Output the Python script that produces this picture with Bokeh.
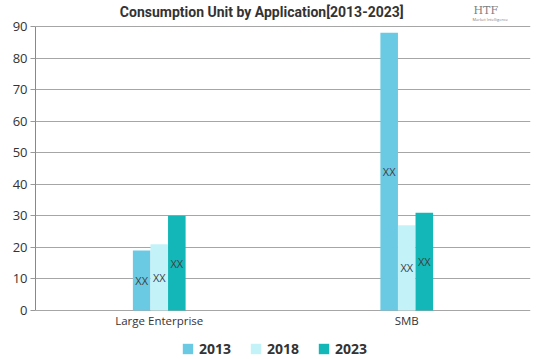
from bokeh.plotting import figure
from bokeh.models import (ColumnDataSource, FactorRange, Range1d, Label, Legend, LegendItem,
                          LabelSet, FixedTicker)
from bokeh.transform import dodge
from bokeh.core.properties import value
from bokeh.embed import file_html
from bokeh.resources import INLINE

categories = ["Large Enterprise", "SMB"]
years = ["2013", "2018", "2023"]
v2013 = [19, 88]
v2018 = [21, 27]
v2023 = [30, 31]
bar_labels = ["XX", "XX"]
y_ticks = [0, 10, 20, 30, 40, 50, 60, 70, 80, 90]
colors = ["#6ACAE4", "#C3F3F8", "#14B7B8"]
title_text = "Consumption Unit by  Application[2013-2023]"

data = dict(cat=categories, y2013=v2013, y2018=v2018, y2023=v2023, lab=bar_labels,
            base=[0] * len(categories))
for y, vals in zip(years, [v2013, v2018, v2023]):
    data["m" + y] = [v / 2 for v in vals]
src = ColumnDataSource(data)

# the frame spans the full height so title/legend are not clipped; the y axis is bounded to 0..90
px_per_unit = 284 / 90
p = figure(x_range=FactorRange(factors=categories),
           y_range=Range1d(-49 / px_per_unit, 90 + 26 / px_per_unit),
           width=539, height=359, output_backend="svg", toolbar_location=None,
           x_axis_location=None,
           min_border_left=35, min_border_right=9, min_border_top=0, min_border_bottom=0)
p.outline_line_color = None
p.background_fill_color = "white"
p.border_fill_color = "white"

bw = 0.071
offs = [-bw, 0.0, bw]
renderers = []
for y, c, o in zip(years, colors, offs):
    r = p.vbar(x=dodge("cat", o, range=p.x_range), top="y" + y, width=bw, source=src,
               fill_color=c, line_color=None)
    renderers.append(r)
    p.add_layout(LabelSet(x=dodge("cat", o, range=p.x_range), y="m" + y, text="lab", source=src,
                          text_align="center", text_baseline="middle", text_font_size="11px",
                          text_font=value("Open Sans"), text_color="#404040"))

# category labels under the baseline
p.add_layout(LabelSet(x="cat", y="base", text="cat", source=src, y_offset=-2,
                      text_align="center", text_baseline="top", text_font_size="11.5px",
                      text_font=value("Open Sans"), text_color="#333333"))

# y axis
p.yaxis.ticker = FixedTicker(ticks=y_ticks)
p.yaxis.bounds = (0, 90)
p.yaxis.axis_line_color = "#888888"
p.yaxis.major_tick_line_color = "#999999"
p.yaxis.major_tick_out = 5
p.yaxis.major_tick_in = 0
p.yaxis.minor_tick_line_color = None
p.yaxis.major_label_text_font = "Open Sans"
p.yaxis.major_label_text_font_size = "13px"
p.yaxis.major_label_text_color = "#333333"
p.yaxis.major_label_standoff = 3

p.xgrid.grid_line_color = None
p.ygrid.grid_line_color = "#a6a6a6"
p.ygrid.grid_line_width = 1

# title
p.add_layout(Label(x=228, y=348, x_units="screen", y_units="screen", text=title_text,
                   text_align="center", text_baseline="middle",
                   text_font="Roboto",
                   text_font_style="bold", text_font_size="14px", text_color="#333333"))

# logo text
p.add_layout(Label(x=438, y=349, x_units="screen", y_units="screen", text="HTF",
                   text_align="left", text_baseline="middle",
                   text_font="DejaVu Serif", text_font_size="11px", text_color="#808080"))
p.add_layout(Label(x=437, y=340, x_units="screen", y_units="screen", text="Market Intelligence",
                   text_align="left", text_baseline="middle",
                   text_font="Open Sans", text_font_size="4px", text_color="#808080"))

legend = Legend(items=[LegendItem(label=y, renderers=[r]) for y, r in zip(years, renderers)],
                orientation="horizontal", location=(146, 1),
                glyph_width=13, glyph_height=13, label_height=13, label_standoff=5, spacing=18,
                padding=0, margin=0, border_line_color=None, background_fill_alpha=0,
                label_text_font="Open Sans", label_text_font_style="bold",
                label_text_font_size="14px", label_text_color="#333333")
p.add_layout(legend, "center")

open("out.html", "w").write(file_html(p, INLINE))
